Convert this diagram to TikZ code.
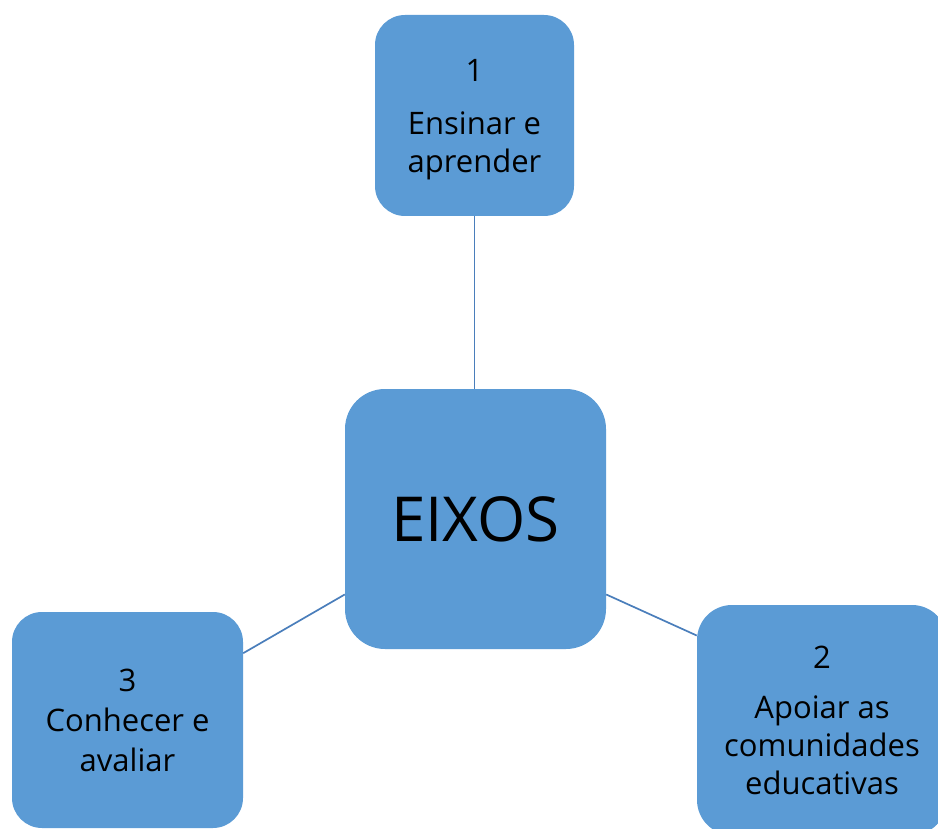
\documentclass[tikz,border=0pt]{standalone}
\usepackage{fontspec}
\setmainfont{Open Sans}
\definecolor{eixofill}{RGB}{91,155,213}
\definecolor{eixoline}{RGB}{74,126,187}
\begin{document}
\begin{tikzpicture}[x=1pt, y=-1pt,
        eixo/.style={fill=eixofill, align=center, inner sep=0pt, font=\fontsize{31}{38}\selectfont},
        liga/.style={draw=eixoline, line width=1.7pt}]
            \useasboundingbox (0, 0) rectangle (938, 829);
            \node[eixo, minimum width=261, minimum height=260, rounded corners=40, font=\fontsize{62}{70}\selectfont] (centro) at (475.5, 519) {EIXOS};
            \node[eixo, minimum width=199, minimum height=201, rounded corners=30] (ensinar) at (474.5, 115.5) {\raisebox{0pt}[31pt]{1}\\[15pt]Ensinar e\\aprender};
            \node[eixo, minimum width=231, minimum height=216, rounded corners=30, font=\fontsize{31}{40}\selectfont] (conhecer) at (127.5, 720) {3\\Conhecer e\\avaliar};
            \node[eixo, minimum width=250, minimum height=230, rounded corners=35] (apoiar) at (822, 720) {2\\[12pt]Apoiar as\\comunidades\\educativas};
            \draw[liga] (ensinar.south) -- (ensinar.south |- centro.north);
            \draw[liga] (conhecer.30) -- (centro.210);
            \draw[liga] (centro.330) -- (apoiar.146);
        \end{tikzpicture}
\end{document}
